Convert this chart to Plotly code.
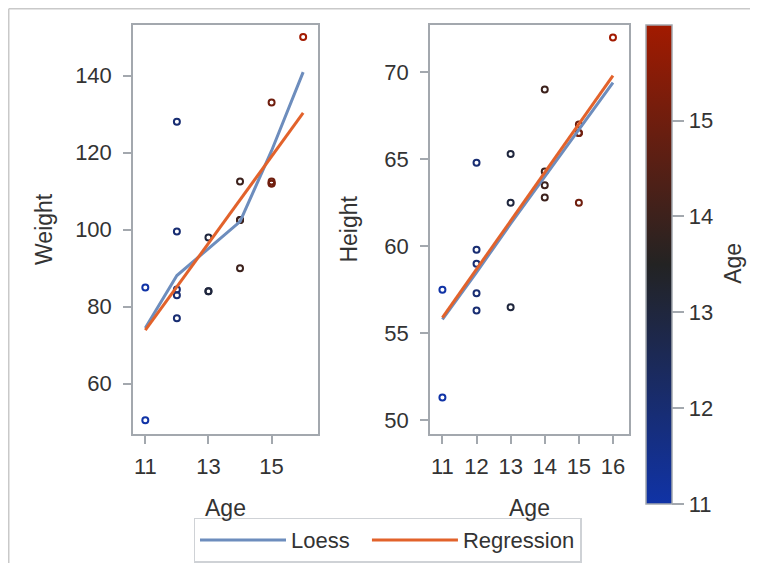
import plotly.graph_objects as go

# ---- data (sashelp.class style) ----
age = [14, 13, 13, 14, 14, 12, 12, 15, 13, 12, 11, 14, 12, 15, 16, 12, 15, 11, 15]
height = [69.0, 56.5, 65.3, 62.8, 63.5, 57.3, 59.8, 62.5, 62.5, 59.0, 51.3, 64.3,
          56.3, 66.5, 72.0, 64.8, 67.0, 57.5, 66.5]
weight = [112.5, 84.0, 98.0, 102.5, 102.5, 83.0, 84.5, 112.5, 84.0, 99.5, 50.5, 90.0,
          77.0, 112.0, 150.0, 128.0, 133.0, 85.0, 112.0]

fit_age = [11, 12, 13, 14, 15, 16]
loess_weight = [74.5, 88.1, 95.1, 102.1, 120.5, 140.9]
loess_height = [55.8, 58.5, 61.3, 64.0, 66.7, 69.4]

reg_age = [11, 16]
reg_weight = [73.9, 130.3]
reg_height = [55.9, 69.8]

weight_ticks = [60, 80, 100, 120, 140]
height_ticks = [50, 55, 60, 65, 70]
age_ticks_left = [11, 13, 15]
age_ticks_right = [11, 12, 13, 14, 15, 16]
color_ticks = [11, 12, 13, 14, 15]

# page has an 8px body margin, so the figure is 16px smaller than the window
W, H = 742, 555
FONT = "Arial, Liberation Sans, sans-serif"
TXT = "#333333"
AX = "#a3a8ae"
LOESS_C = "#6d8dbd"
REG_C = "#e2622b"
TICK_SIZE = 22
TITLE_SIZE = 23


def px_x(a, b):
    return [a / W, b / W]


def px_y(top, bottom):
    return [1 - bottom / H, 1 - top / H]


fig = go.Figure()

marker_style = dict(symbol="circle-open", size=6, color=age,
                    coloraxis="coloraxis", line=dict(width=2))

# left panel
fig.add_trace(go.Scatter(x=age, y=weight, mode="markers", showlegend=False,
                         marker=marker_style, xaxis="x", yaxis="y"))
fig.add_trace(go.Scatter(x=fit_age, y=loess_weight, mode="lines", name="Loess\u00a0\u00a0",
                         line=dict(color=LOESS_C, width=3), xaxis="x", yaxis="y"))
fig.add_trace(go.Scatter(x=reg_age, y=reg_weight, mode="lines", name="Regression",
                         line=dict(color=REG_C, width=3), xaxis="x", yaxis="y"))

# right panel
fig.add_trace(go.Scatter(x=age, y=height, mode="markers", showlegend=False,
                         marker=marker_style, xaxis="x2", yaxis="y2"))
fig.add_trace(go.Scatter(x=fit_age, y=loess_height, mode="lines", name="Loess",
                         showlegend=False,
                         line=dict(color=LOESS_C, width=3), xaxis="x2", yaxis="y2"))
fig.add_trace(go.Scatter(x=reg_age, y=reg_height, mode="lines", name="Regression",
                         showlegend=False,
                         line=dict(color=REG_C, width=3), xaxis="x2", yaxis="y2"))

axis_common = dict(showline=True, linecolor=AX, linewidth=1.5, mirror=True,
                   ticks="outside", tickcolor=AX, ticklen=8, tickwidth=1.5,
                   showgrid=False, zeroline=False,
                   tickfont=dict(family=FONT, size=TICK_SIZE, color=TXT))
title_font = dict(size=TITLE_SIZE, family=FONT, color=TXT)

fig.update_layout(
    width=W, height=H,
    margin=dict(l=0, r=0, t=0, b=0),
    paper_bgcolor="white", plot_bgcolor="white",
    font=dict(family=FONT, color=TXT),
    xaxis=dict(domain=px_x(125, 310), range=[10.61, 16.47], tickvals=age_ticks_left,
               anchor="y", ticklabelstandoff=4,
               title=dict(text="Age", font=title_font, standoff=22),
               **axis_common),
    yaxis=dict(domain=px_y(17, 433), range=[46.97, 153.2], tickvals=weight_ticks,
               anchor="x", ticklabelstandoff=7,
               title=dict(text="Weight", font=title_font, standoff=16),
               **axis_common),
    xaxis2=dict(domain=px_x(422, 621), range=[10.636, 16.47], tickvals=age_ticks_right,
                anchor="y2", ticklabelstandoff=4,
                title=dict(text="Age", font=title_font, standoff=22),
                **axis_common),
    yaxis2=dict(domain=px_y(17, 433), range=[49.21, 72.73], tickvals=height_ticks,
                anchor="x2", ticklabelstandoff=7,
                title=dict(text="Height", font=title_font, standoff=20),
                **axis_common),
    coloraxis=dict(
        cmin=11, cmax=16,
        colorscale=[[0.0, "rgb(16,51,166)"], [0.5, "rgb(35,35,35)"], [1.0, "rgb(162,26,0)"]],
        colorbar=dict(
            thickness=26, thicknessmode="pixels",
            len=487 / H, lenmode="fraction",
            x=638 / W, xanchor="left", xpad=0,
            y=1 - 504 / H, yanchor="bottom", ypad=0,
            outlinecolor=AX, outlinewidth=1.5,
            ticks="outside", ticklen=12, tickcolor=AX, tickwidth=1.5,
            tickvals=color_ticks, tickprefix="\u00a0\u00a0",
            tickfont=dict(family=FONT, size=TICK_SIZE, color=TXT),
        ),
    ),
    legend=dict(orientation="h", x=379.5 / W, xanchor="center", y=1 - 518 / H, yanchor="top",
                bordercolor="#cfd2d6", borderwidth=1.5, bgcolor="white",
                font=dict(family=FONT, size=22, color=TXT), itemwidth=86,
                tracegroupgap=0),
    annotations=[
        dict(text="Age", xref="paper", yref="paper", x=725 / W, y=1 - 260 / H,
             xanchor="center", yanchor="middle", textangle=-90, showarrow=False,
             font=title_font),
    ],
    shapes=[
        dict(type="line", xref="paper", yref="paper", x0=0.75 / W, x1=1.02,
             y0=1 - 0.75 / H, y1=1 - 0.75 / H, line=dict(color="#c9c9c9", width=1.5)),
        dict(type="line", xref="paper", yref="paper", x0=0.75 / W, x1=0.75 / W,
             y0=1 - 0.75 / H, y1=-0.02, line=dict(color="#c9c9c9", width=1.5)),
    ],
)

fig.write_html("out.html")
